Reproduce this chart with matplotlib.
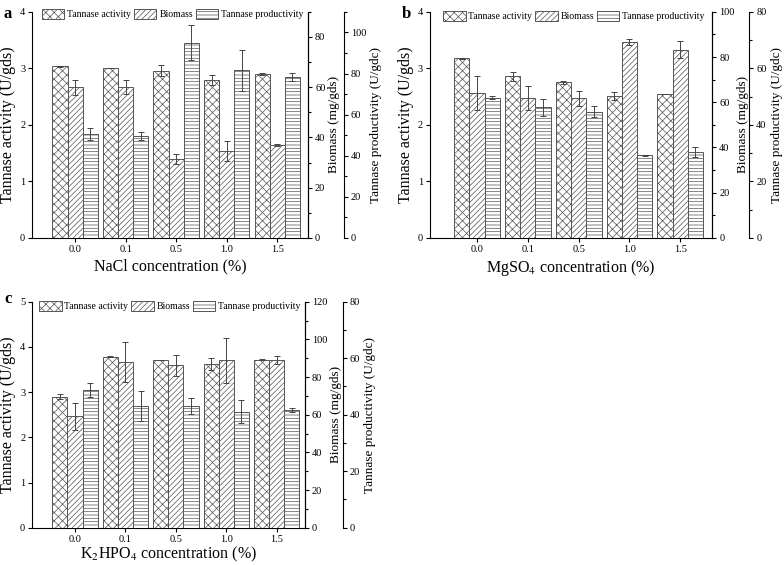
import matplotlib
matplotlib.use("Agg")
import matplotlib.pyplot as plt
from matplotlib.ticker import MultipleLocator
import numpy as np

plt.rcParams['font.family'] = ['Liberation Serif', 'DejaVu Serif']
plt.rcParams['mathtext.fontset'] = 'stix'
plt.rcParams['hatch.linewidth'] = 0.5
plt.rcParams['hatch.color'] = '#555555'

conc = ['0.0', '0.1', '0.5', '1.0', '1.5']

# panel a: NaCl
a_act = [3.04, 3.00, 2.96, 2.80, 2.90]
a_act_err = [0.01, 0.0, 0.10, 0.09, 0.01]
a_bio = [60.0, 60.2, 31.3, 34.7, 37.0]
a_bio_err = [3.0, 2.8, 2.0, 4.0, 0.5]
a_prod = [50.6, 49.6, 95.0, 81.5, 78.3]
a_prod_err = [3.0, 2.1, 8.5, 10.0, 2.0]

# panel b: MgSO4
b_act = [3.18, 2.86, 2.75, 2.51, 2.55]
b_act_err = [0.01, 0.08, 0.02, 0.07, 0.0]
b_bio = [64.2, 61.8, 61.8, 86.7, 83.3]
b_bio_err = [7.6, 5.3, 3.4, 1.4, 3.7]
b_prod = [49.6, 46.3, 44.7, 29.2, 30.4]
b_prod_err = [0.6, 3.0, 2.0, 0.3, 1.7]

# panel c: K2HPO4
c_act = [2.90, 3.78, 3.71, 3.63, 3.72]
c_act_err = [0.06, 0.01, 0.0, 0.13, 0.02]
c_bio = [59.2, 88.0, 86.3, 88.9, 89.1]
c_bio_err = [7.2, 10.8, 5.6, 12.0, 2.1]
c_prod = [48.9, 43.2, 43.0, 41.1, 41.5]
c_prod_err = [2.5, 5.3, 2.8, 4.2, 0.7]

fig = plt.figure(figsize=(7.84, 5.65), dpi=100)

edge = '#555555'
ekw = dict(ecolor='#444444', elinewidth=0.7, capsize=2, capthick=0.7)


def panel(rect, letter, act, act_err, bio, bio_err, prod, prod_err,
          ylim1, ylim2, ylim3, xlim, xlabel, off3, xpad, leg_xy, let_dy):
    ax = fig.add_axes(rect)
    ax2 = ax.twinx()
    ax3 = ax.twinx()
    x = np.arange(len(conc))
    w = 0.3
    b1 = ax.bar(x - w, act, w, yerr=act_err, color='white', edgecolor=edge,
                hatch='xxxx', linewidth=0.7, error_kw=ekw, label='Tannase activity')
    b2 = ax2.bar(x, bio, w, yerr=bio_err, color='white', edgecolor=edge,
                 hatch='//////', linewidth=0.7, error_kw=ekw, label='Biomass')
    b3 = ax3.bar(x + w, prod, w, yerr=prod_err, color='white', edgecolor=edge,
                 hatch='-----', linewidth=0.7, error_kw=ekw, label='Tannase productivity')

    ax.set_xlim(*xlim)
    ax.set_xticks(x)
    ax.set_xticklabels(conc)
    ax.set_ylim(*ylim1)
    ax.yaxis.set_major_locator(MultipleLocator(1))
    ax2.set_ylim(*ylim2)
    ax2.yaxis.set_major_locator(MultipleLocator(20))
    ax2.yaxis.set_minor_locator(MultipleLocator(10))
    ax3.set_ylim(*ylim3)
    ax3.yaxis.set_major_locator(MultipleLocator(20))
    ax3.yaxis.set_minor_locator(MultipleLocator(10))
    ax3.spines['right'].set_position(('axes', off3))

    for a in (ax, ax2, ax3):
        a.spines['top'].set_visible(False)
        a.tick_params(direction='out', labelsize=7.5, length=3, width=0.8, pad=2)
        a.tick_params(which='minor', length=2, width=0.8)
    for a in (ax2, ax3):
        a.spines['left'].set_visible(False)
        a.spines['bottom'].set_visible(False)

    ax.set_ylabel('Tannase activity (U/gds)', fontsize=11.5, labelpad=3)
    ax2.set_ylabel('Biomass (mg/gds)', fontsize=9.5, labelpad=2)
    ax3.set_ylabel('Tannase productivity (U/gdc)', fontsize=9.5, labelpad=3)
    ax.set_xlabel(xlabel, fontsize=11.5, labelpad=xpad)

    ax3.legend(handles=[b1, b2, b3], loc='center', ncol=3, frameon=False,
               fontsize=7, handlelength=2.3, handleheight=1.25, handletextpad=0.3,
               columnspacing=0.3, borderpad=0, bbox_to_anchor=leg_xy)
    fig.text(rect[0] - 0.036, rect[1] + rect[3] - 0.018 + let_dy, letter,
             fontsize=12, fontweight='bold', va='bottom')


panel([0.041, 0.579, 0.352, 0.4], 'a', a_act, a_act_err, a_bio, a_bio_err,
      a_prod, a_prod_err, (0, 4), (0, 90), (0, 110), (-0.85, 4.61),
      'NaCl concentration (%)', 1.13, 3, (0.509, 0.991), 0)
panel([0.5485, 0.579, 0.36, 0.4], 'b', b_act, b_act_err, b_bio, b_bio_err,
      b_prod, b_prod_err, (0, 4), (0, 100), (0, 80), (-0.925, 4.63),
      'MgSO$_4$ concentration (%)', 1.131, 3, (0.51, 0.982), 0)
panel([0.041, 0.066, 0.348, 0.4], 'c', c_act, c_act_err, c_bio, c_bio_err,
      c_prod, c_prod_err, (0, 5), (0, 120), (0, 80), (-0.85, 4.56),
      'K$_2$HPO$_4$ concentration (%)', 1.139, 1, (0.505, 0.982), 0.008)

fig.savefig('out.png', dpi=100)
